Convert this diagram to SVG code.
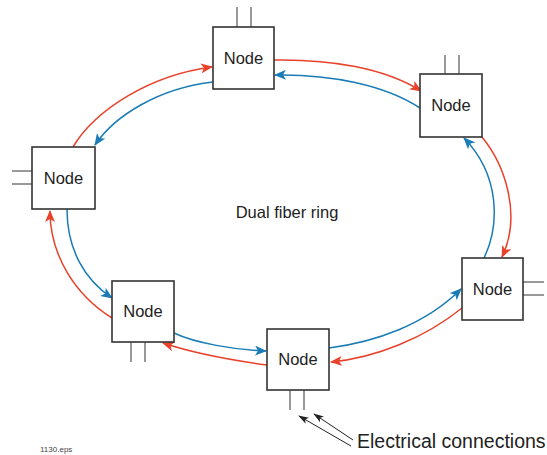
<svg xmlns="http://www.w3.org/2000/svg" width="547" height="455" viewBox="0 0 547 455">
<style>
.box{fill:#fff;stroke:#333;stroke-width:1.6}
.pin{stroke:#777;stroke-width:1.5;fill:none}
.lbl{font-family:"Liberation Sans",Arial,sans-serif;font-size:16.5px;fill:#222;text-anchor:middle}
.red{fill:none;stroke:#e8422b;stroke-width:1.5;marker-end:url(#ar)}
.blue{fill:none;stroke:#1a7cb6;stroke-width:1.5;marker-end:url(#ab)}
.ec{fill:none;stroke:#222;stroke-width:1;marker-end:url(#ak)}
</style>
<defs>
<marker id="ar" viewBox="0 0 12 10" refX="11" refY="5" markerWidth="12" markerHeight="10" markerUnits="userSpaceOnUse" orient="auto"><path d="M0,0 L12,5 L0,10 L3,5 z" fill="#e8422b"/></marker>
<marker id="ab" viewBox="0 0 12 10" refX="11" refY="5" markerWidth="12" markerHeight="10" markerUnits="userSpaceOnUse" orient="auto"><path d="M0,0 L12,5 L0,10 L3,5 z" fill="#1a7cb6"/></marker>
<marker id="ak" viewBox="0 0 12 8" refX="11" refY="4" markerWidth="11" markerHeight="7" markerUnits="userSpaceOnUse" orient="auto"><path d="M0,0 L12,4 L0,8 L3,4 z" fill="#222"/></marker>
</defs>
<rect width="547" height="455" fill="#fff"/>
<g id="connectors">
<path class="red" d="M274,60 C330,59 385,68 421,91"/>
<path class="blue" d="M420,108 C385,85 330,74 275,75"/>
<path class="red" d="M482,137 C505,165 522,215 502,257"/>
<path class="blue" d="M484,258 C500,225 500,175 464,138"/>
<path class="blue" d="M329,348 C375,342 425,325 461,289"/>
<path class="red" d="M462,308 C425,338 375,358 331,362"/>
<path class="blue" d="M174,333 C195,343 235,350 266,351"/>
<path class="red" d="M267,365 C230,360 190,352 163,343"/>
<path class="red" d="M112,318 C75,295 50,255 50,211"/>
<path class="blue" d="M67,209 C67,250 85,280 112,298"/>
<path class="red" d="M73,147 C95,110 150,75 212,67"/>
<path class="blue" d="M213,82 C160,88 115,115 95,145"/>
<path class="ec" d="M351,446 L299,416"/>
<path class="ec" d="M353,440 L314,414"/>
</g>
<g id="node-top">
<line class="pin" x1="237" y1="7" x2="237" y2="27"/><line class="pin" x1="251" y1="7" x2="251" y2="27"/>
<rect class="box" x="213" y="27" width="61" height="62"/>
<text class="lbl" x="243.5" y="64">Node</text>
</g>
<g id="node-topright">
<line class="pin" x1="445" y1="55" x2="445" y2="74"/><line class="pin" x1="459" y1="55" x2="459" y2="74"/>
<rect class="box" x="420" y="74" width="62" height="63"/>
<text class="lbl" x="451" y="111">Node</text>
</g>
<g id="node-left">
<line class="pin" x1="12" y1="171" x2="32" y2="171"/><line class="pin" x1="12" y1="184" x2="32" y2="184"/>
<rect class="box" x="32" y="147" width="63" height="62"/>
<text class="lbl" x="63.5" y="184">Node</text>
</g>
<g id="node-right">
<line class="pin" x1="523" y1="282" x2="544" y2="282"/><line class="pin" x1="523" y1="295" x2="544" y2="295"/>
<rect class="box" x="462" y="258" width="61" height="62"/>
<text class="lbl" x="492.5" y="295">Node</text>
</g>
<g id="node-bottomleft">
<line class="pin" x1="131" y1="342" x2="131" y2="362"/><line class="pin" x1="145" y1="342" x2="145" y2="362"/>
<rect class="box" x="112" y="281" width="62" height="61"/>
<text class="lbl" x="143" y="317">Node</text>
</g>
<g id="node-bottom">
<line class="pin" x1="290" y1="390" x2="290" y2="410"/><line class="pin" x1="304" y1="390" x2="304" y2="410"/>
<rect class="box" x="267" y="329" width="62" height="61"/>
<text class="lbl" x="298" y="365">Node</text>
</g>
<text x="287" y="218" font-family="Liberation Sans,Arial,sans-serif" font-size="16.5" fill="#222" text-anchor="middle">Dual fiber ring</text>
<text x="357" y="448" font-family="Liberation Sans,Arial,sans-serif" font-size="19.5" fill="#222">Electrical connections</text>
<text x="40" y="452" font-family="Liberation Sans,Arial,sans-serif" font-size="8" fill="#444">1130.eps</text>
</svg>
